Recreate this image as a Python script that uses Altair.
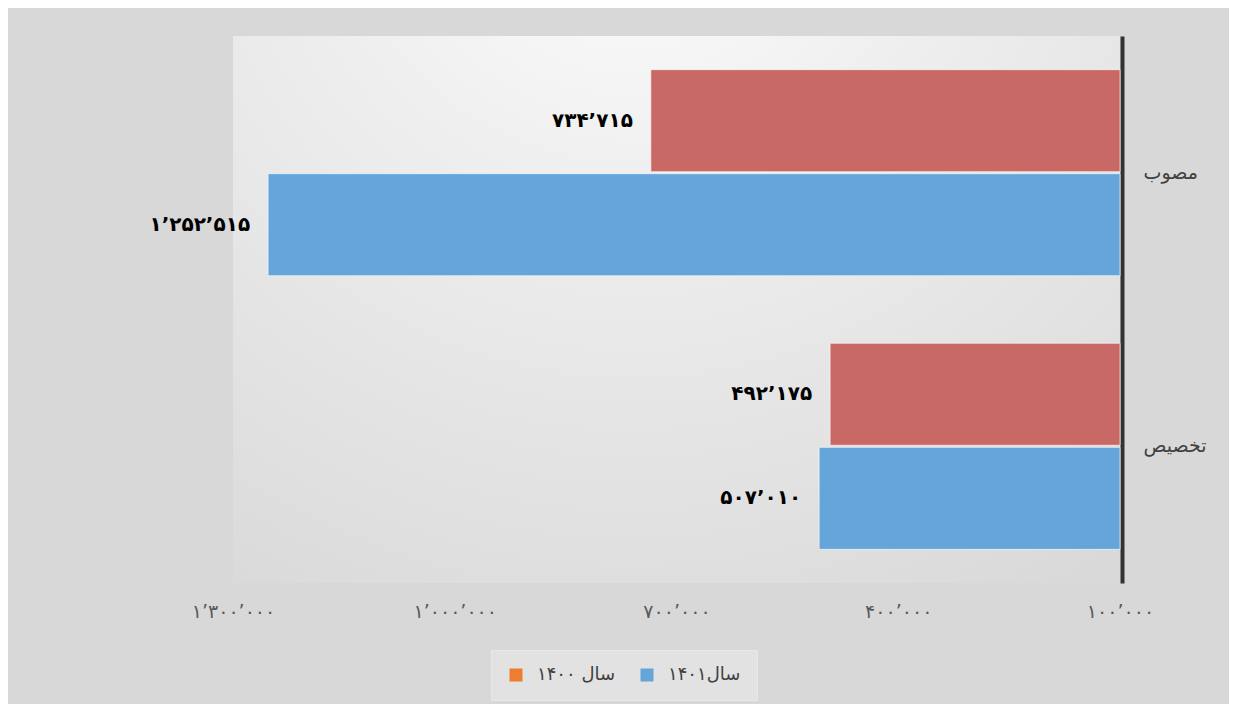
import json
import altair as alt
import pandas as pd

# ---- data ----
categories = ["مصوب", "تخصیص"]
series = ["سال ۱۴۰۰", "سال۱۴۰۱"]
values_1400 = [734715, 492175]
values_1401 = [1252515, 507010]
labels_1400 = ["۷۳۴’۷۱۵", "۴۹۲’۱۷۵"]
labels_1401 = ["۱’۲۵۲’۵۱۵", "۵۰۷’۰۱۰"]
tick_values = [100000, 400000, 700000, 1000000, 1300000]
tick_labels = ["۱۰۰’۰۰۰", "۴۰۰’۰۰۰", "۷۰۰’۰۰۰", "۱’۰۰۰’۰۰۰", "۱’۳۰۰’۰۰۰"]
axis_min = 100000
axis_max = 1300000

bar_colors = ["#C96966", "#65A5D9"]
legend_colors = ["#ED7D31", "#65A5D9"]

rows = []
for i, cat in enumerate(categories):
    rows.append({"category": cat, "series": series[0], "value": values_1400[i],
                 "label": labels_1400[i], "base": axis_min})
    rows.append({"category": cat, "series": series[1], "value": values_1401[i],
                 "label": labels_1401[i], "base": axis_min})
df = pd.DataFrame(rows)

FONT = "DejaVu Sans"

label_expr = "{}[indexof({}, datum.value)]".format(
    json.dumps(tick_labels, ensure_ascii=False), json.dumps(tick_values))

x_scale = alt.Scale(domain=[axis_min, axis_max], reverse=True, nice=False, zero=False)

x_enc = alt.X(
    "value:Q",
    scale=x_scale,
    axis=alt.Axis(values=tick_values, labelExpr=label_expr, ticks=False, domain=False,
                  grid=False, labelFontSize=19, labelColor="#595959", labelPadding=19,
                  labelFlush=False, labelOverlap=False, labelFont=FONT, title=None),
)
y_enc = alt.Y(
    "category:N", sort=categories,
    scale=alt.Scale(paddingInner=0.247, paddingOuter=0.123),
    axis=alt.Axis(orient="right", ticks=False, domainColor="#333333", domainWidth=4,
                  offset=2, labelFontSize=19, labelColor="#404040", labelPadding=21,
                  labelFont=FONT, title=None),
)
yoff_enc = alt.YOffset("series:N", sort=series,
                       scale=alt.Scale(paddingInner=0.02, paddingOuter=0))

# soft radial background over the plot area
backdrop = alt.Chart(pd.DataFrame({"k": [0]})).mark_rect(
    color={
        "gradient": "radial",
        "x1": 0.45, "y1": 0.0, "r1": 0,
        "x2": 0.45, "y2": 0.0, "r2": 0.95,
        "stops": [
            {"offset": 0, "color": "#ffffff"},
            {"offset": 0.35, "color": "#f0f0f0"},
            {"offset": 1, "color": "#d9d9d9"},
        ],
    }
).encode(
    x=alt.X(datum=axis_max, scale=x_scale),
    x2=alt.datum(axis_min),
)

base = alt.Chart(df).encode(x=x_enc, y=y_enc, yOffset=yoff_enc)

bars = base.mark_bar(stroke="#ffffff", strokeWidth=1, strokeOpacity=0.6).encode(
    x2="base:Q",
    color=alt.Color("series:N", scale=alt.Scale(domain=series, range=bar_colors), legend=None),
)

texts = base.mark_text(align="right", baseline="middle", dx=-18, fontSize=20,
                       fontWeight="bold", font=FONT, color="#000000").encode(
    text="label:N"
)

legend_layer = base.mark_square(opacity=0).encode(
    color=alt.Color(
        "series:N",
        scale=alt.Scale(domain=series, range=legend_colors),
        legend=alt.Legend(
            orient="none", legendX=258, legendY=614, direction="horizontal",
            title=None, symbolType="square", symbolSize=169, symbolStrokeWidth=0,
            labelFontSize=18, labelFont=FONT, labelColor="#404040", labelOffset=12,
            columnPadding=22, padding=16, fillColor="#e2e2e2", strokeColor="#e8e8e8",
            labelLimit=300,
        ),
    )
)

chart = alt.layer(backdrop, bars, texts, legend_layer).resolve_scale(
    color="independent"
).properties(
    width=887,
    height=547,
    autosize=alt.AutoSizeParams(type="none"),
    padding={"left": 225, "top": 28, "right": 109, "bottom": 121},
    background="#d8d8d8",
).configure_view(strokeWidth=0)

chart.save("out.html", embed_options={"renderer": "svg", "actions": False})
